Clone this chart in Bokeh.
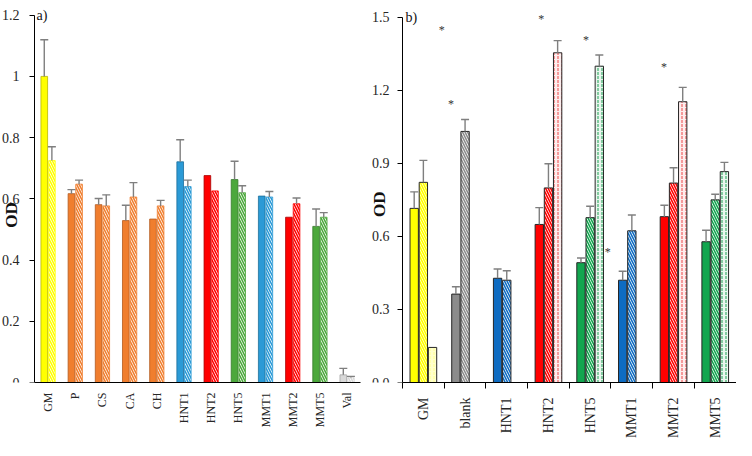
import math
from bokeh.plotting import figure
from bokeh.layouts import row
from bokeh.models import Range1d, FixedTicker, Label, PrintfTickFormatter
from bokeh.core.properties import value
from bokeh.embed import file_html
from bokeh.resources import INLINE

FONT = "Liberation Serif"

# ---------------- panel a) data ----------------
left_cats = ["GM", "P", "CS", "CA", "CH", "HNT1", "HNT2", "HNT5", "MMT1", "MMT2", "MMT5", "Val"]
left_solid = [1.0, 0.617, 0.581, 0.529, 0.534, 0.721, 0.676, 0.663, 0.609, 0.540, 0.510, 0.025]
left_solid_err = [0.12, 0.013, 0.020, 0.050, 0.0, 0.072, 0.0, 0.060, 0.0, 0.0, 0.057, 0.021]
left_hatch = [0.725, 0.648, 0.577, 0.606, 0.577, 0.640, 0.626, 0.620, 0.606, 0.584, 0.540, 0.016]
left_hatch_err = [0.045, 0.013, 0.036, 0.047, 0.018, 0.021, 0.0, 0.023, 0.018, 0.019, 0.015, 0.004]
left_colors = ["#FFFF00", "#F07E2E", "#F07E2E", "#F07E2E", "#F07E2E", "#2B9AD6",
               "#FF0000", "#4CA83C", "#2B9AD6", "#FF0000", "#4CA83C", "#D9D9D9"]
left_edges = ["#B8B800", "#B35A1F", "#B35A1F", "#B35A1F", "#B35A1F", "#1C6E9B",
              "#A80000", "#347A28", "#1C6E9B", "#A80000", "#347A28", "#A6A6A6"]
left_yticks = [0, 0.2, 0.4, 0.6, 0.8, 1, 1.2]

# ---------------- panel b) data ----------------
right_cats = ["GM", "blank", "HNT1", "HNT2", "HNT5", "MMT1", "MMT2", "MMT5"]
r_solid = [0.715, 0.363, 0.428, 0.649, 0.492, 0.420, 0.681, 0.578]
r_solid_err = [0.068, 0.030, 0.038, 0.069, 0.019, 0.037, 0.047, 0.047]
r_hatch = [0.822, 1.031, 0.420, 0.799, 0.677, 0.623, 0.819, 0.750]
r_hatch_err = [0.090, 0.049, 0.039, 0.099, 0.047, 0.065, 0.063, 0.023]
r_dot = [0.144, None, None, 1.354, 1.299, None, 1.153, 0.866]
r_dot_err = [0.0, None, None, 0.050, 0.046, None, 0.059, 0.038]
r_colors = ["#FFFF00", "#8C8C8C", "#0E6CC2", "#FF0000", "#12A64F", "#0E6CC2", "#FF0000", "#12A64F"]
r_dot_fill = ["#FFFFCC", None, None, "#FDEDED", "#EAF6EE", None, "#FDEDED", "#EAF6EE"]
r_dot_color = ["#FFFF99", None, None, "#F06060", "#3DAF6C", None, "#F06060", "#3DAF6C"]
right_yticks = [0.0, 0.3, 0.6, 0.9, 1.2, 1.5]
# significance marks (x in group units, y in OD)
ast_x = [0.94, 1.16, 3.33, 4.40, 4.92, 6.27]
ast_y = [1.446, 1.143, 1.493, 1.408, 0.536, 1.294]

ERR_COLOR = "#7F7F7F"


def whiskers(p, xs, tops, errs, width=1.4, cap=8):
    sx, sy0, sy1 = [], [], []
    for x, t, e in zip(xs, tops, errs):
        if t is None or e is None or e <= 0:
            continue
        sx.append(x); sy0.append(t); sy1.append(t + e)
    p.segment(x0=sx, y0=sy0, x1=sx, y1=sy1, line_color=ERR_COLOR, line_width=width)
    p.scatter(x=sx, y=sy1, marker="dash", size=cap, line_color=ERR_COLOR, line_width=width)


def style_common(p):
    p.xgrid.visible = False
    p.ygrid.visible = False
    p.outline_line_color = None
    p.background_fill_color = "white"
    p.border_fill_color = "white"
    for ax in (p.xaxis[0], p.yaxis[0]):
        ax.axis_line_color = "black"
        ax.axis_line_width = 1
        ax.major_label_text_font = FONT
        ax.major_label_text_color = "#262626"
        ax.major_tick_line_color = "black"
        ax.minor_tick_line_color = None
    p.yaxis.fixed_location = 0
    p.yaxis.major_label_text_font_size = "14px"
    p.yaxis.major_tick_out = 5
    p.yaxis.major_tick_in = 0


def od_label(p, x, y):
    p.add_layout(Label(x=x, y=y, text="OD", angle=math.pi / 2,
                       text_font=FONT, text_font_style="bold", text_font_size="17px",
                       text_align="center", text_baseline="middle", text_color="#111"))


# ---------------- panel a) ----------------
nL = len(left_cats)
pa = figure(width=367, height=440, output_backend="svg", toolbar_location=None,
            x_range=Range1d(-1.25, nL + 0.25), y_range=Range1d(0, 1.248),
            min_border_left=0, min_border_right=0, min_border_top=0, min_border_bottom=50)
style_common(pa)

bw_a = 0.245
off_a = 0.14
xs_solid = [i + 0.5 - off_a for i in range(nL)]
xs_hatch = [i + 0.5 + off_a for i in range(nL)]
pa.vbar(x=xs_solid, top=left_solid, bottom=0, width=bw_a, fill_color=left_colors,
        line_color=left_edges, line_width=0.8)
pa.vbar(x=xs_hatch, top=left_hatch, bottom=0, width=bw_a, fill_color="white",
        hatch_pattern="\\", hatch_color=left_colors, hatch_scale=5, hatch_weight=1.6,
        line_color=left_colors, line_width=0.8)
whiskers(pa, xs_solid, left_solid, left_solid_err)
whiskers(pa, xs_hatch, left_hatch, left_hatch_err)

pa.yaxis.ticker = FixedTicker(ticks=left_yticks)
pa.yaxis.bounds = (0, 1.2)
pa.yaxis.major_label_standoff = 10

pa.xaxis.bounds = (0, nL)
pa.xaxis.ticker = FixedTicker(ticks=[i + 0.5 for i in range(nL)])
pa.xaxis.major_label_overrides = {i + 0.5: c for i, c in enumerate(left_cats)}
pa.xaxis.major_label_orientation = math.pi / 2
pa.xaxis.major_label_text_font_size = "12px"
pa.xaxis.major_tick_out = 0
pa.xaxis.major_tick_in = 0
pa.xaxis.major_label_standoff = 10

od_label(pa, -0.846, 0.547)
pa.add_layout(Label(x=0, y=1.2, x_offset=2, text="a)", text_font=FONT,
                    text_font_size="14px", text_align="left", text_baseline="alphabetic",
                    text_color="#111"))

# ---------------- panel b) ----------------
nR = len(right_cats)
pb = figure(width=369, height=440, output_backend="svg", toolbar_location=None,
            x_range=Range1d(-0.84, nR + 0.01), y_range=Range1d(0, 1.5687),
            min_border_left=0, min_border_right=0, min_border_top=0, min_border_bottom=52)
style_common(pb)

bw_b = 0.2
off_b = 0.22
xs1 = [i + 0.5 - off_b for i in range(nR)]
xs2 = [i + 0.5 for i in range(nR)]
xs3 = [i + 0.5 + off_b for i in range(nR)]
hatch_bg = ["#FFFFE0" if c == "#FFFF00" else "white" for c in r_colors]

pb.vbar(x=xs1, top=r_solid, bottom=0, width=bw_b, fill_color=r_colors,
        line_color="#262626", line_width=1)
pb.vbar(x=xs2, top=r_hatch, bottom=0, width=bw_b, fill_color=hatch_bg,
        hatch_pattern="\\", hatch_color=r_colors, hatch_scale=5, hatch_weight=1.6,
        line_color="#262626", line_width=1)
d_idx = [i for i in range(nR) if r_dot[i] is not None]
pb.vbar(x=[xs3[i] for i in d_idx], top=[r_dot[i] for i in d_idx], bottom=0, width=bw_b,
        fill_color=[r_dot_fill[i] for i in d_idx], hatch_pattern=":",
        hatch_color=[r_dot_color[i] for i in d_idx], hatch_scale=4, hatch_weight=1.2,
        line_color="#262626", line_width=1)
whiskers(pb, xs1, r_solid, r_solid_err)
whiskers(pb, xs2, r_hatch, r_hatch_err)
whiskers(pb, [xs3[i] for i in d_idx], [r_dot[i] for i in d_idx], [r_dot_err[i] for i in d_idx])

pb.text(x=ast_x, y=ast_y, text=["*"] * len(ast_x), text_font=value(FONT),
        text_font_size="12px", text_align="center", text_baseline="middle", text_color="#333333")

pb.yaxis.ticker = FixedTicker(ticks=right_yticks)
pb.yaxis.bounds = (0, 1.5)
pb.yaxis.formatter = PrintfTickFormatter(format="%.1f")
pb.yaxis.major_label_standoff = 8

pb.xaxis.bounds = (0, nR)
pb.xaxis.ticker = FixedTicker(ticks=xs2, minor_ticks=list(range(nR + 1)))
pb.xaxis.major_label_overrides = {i + 0.5: c for i, c in enumerate(right_cats)}
pb.xaxis.major_label_orientation = math.pi / 2
pb.xaxis.major_label_text_font_size = "14px"
pb.xaxis.major_tick_out = 0
pb.xaxis.major_tick_in = 0
pb.xaxis.minor_tick_line_color = "black"
pb.xaxis.minor_tick_out = 6
pb.xaxis.minor_tick_in = 0
pb.xaxis.major_label_standoff = 9

od_label(pb, -0.552, 0.732)
pb.add_layout(Label(x=0, y=1.5, x_offset=3, text="b)", text_font=FONT,
                    text_font_size="14px", text_align="left", text_baseline="alphabetic",
                    text_color="#111"))

layout = row(pa, pb)
open("out.html", "w").write(file_html(layout, INLINE))
